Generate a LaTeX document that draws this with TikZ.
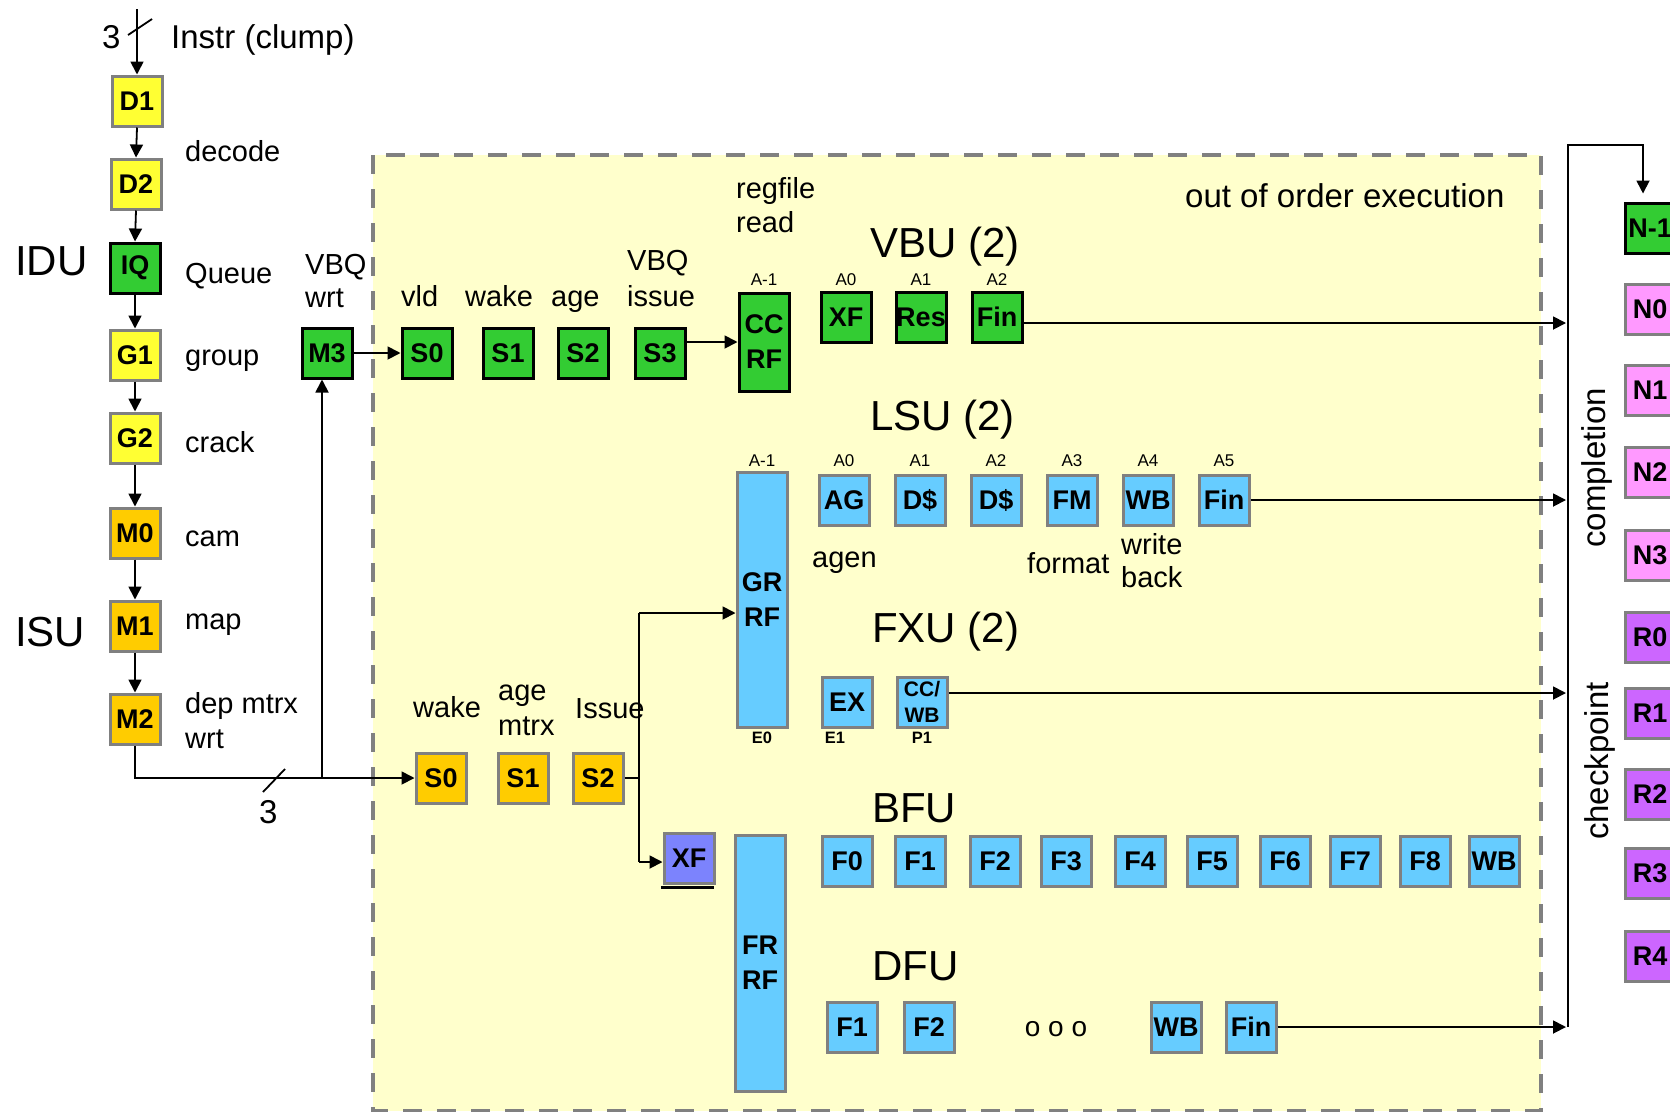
\documentclass[tikz,border=0pt]{standalone}
\usepackage{fontspec}
\setmainfont{Liberation Sans}
\usetikzlibrary{arrows.meta,calc}
\definecolor{yel}{HTML}{FFFF33}
\definecolor{grn}{HTML}{33CC33}
\definecolor{org}{HTML}{FFCC00}
\definecolor{blu}{HTML}{66CCFF}
\definecolor{pxf}{HTML}{7C83FD}
\definecolor{pnk}{HTML}{FF99FF}
\definecolor{vio}{HTML}{CC66FF}
\definecolor{bgy}{HTML}{FFFFCC}
\definecolor{bgray}{HTML}{808080}
\begin{document}
\begin{tikzpicture}[x=1pt,y=-1pt,
  stg/.style={draw=bgray, line width=3pt, minimum width=50pt, minimum height=50pt, inner sep=0pt, align=center,
     font=\bfseries\fontsize{27}{30}\selectfont},
  gstg/.style={stg, draw=black, fill=grn},
  ystg/.style={stg, fill=yel},
  ostg/.style={stg, fill=org},
  bstg/.style={stg, fill=blu},
  nstg/.style={stg, fill=pnk},
  rstg/.style={stg, fill=vio},
  lbl/.style={anchor=base west, inner sep=0pt, font=\fontsize{29}{34}\selectfont},
  blbl/.style={anchor=base west, inner sep=0pt, font=\fontsize{33}{38}\selectfont},
  big/.style={anchor=base west, inner sep=0pt, font=\fontsize{42}{48}\selectfont},
  tiny/.style={inner sep=0pt, font=\fontsize{17}{18}\selectfont},
  tinyb/.style={inner sep=0pt, font=\bfseries\fontsize{16.5}{18}\selectfont},
  ln/.style={line width=1.8pt},
  arr/.style={line width=1.8pt, -{Triangle[length=13pt,width=13pt]}}
]
\useasboundingbox (0,0) rectangle (1670,1111);
\clip (0,0) rectangle (1670,1111);

% out of order execution region
\draw[fill=bgy, draw=bgray, line width=4pt, dash pattern=on 19pt off 15pt] (373,155) rectangle (1541,1111);

% left column
\node[ystg] (D1) at (137,101) {D1};
\node[ystg] (D2) at (136,184) {D2};
\node[gstg] (IQ) at (135,268) {IQ};
\node[ystg] (G1) at (135,355) {G1};
\node[ystg] (G2) at (135,438) {G2};
\node[ostg] (M0) at (135,533) {M0};
\node[ostg] (M1) at (135,626) {M1};
\node[ostg] (M2) at (135,719) {M2};
\node[gstg] (M3) at (327,353) {M3};

% VBU
\node[gstg] (vS0) at (427,353) {S0};
\node[gstg] (vS1) at (508,353) {S1};
\node[gstg] (vS2) at (583,353) {S2};
\node[gstg] (vS3) at (660,353) {S3};
\node[gstg, minimum height=98pt] (CCRF) at (764,342) {CC\\[5pt]RF};
\node[gstg] (vXF) at (846,317) {XF};
\node[gstg] (vRes) at (921,317) {Res};
\node[gstg] (vFin) at (997,317) {Fin};

% LSU
\node[bstg, minimum height=255pt] (GRRF) at (762,600) {GR\\[5pt]RF};
\node[bstg] (lAG) at (844,500) {AG};
\node[bstg] (lD1) at (920,500) {D\$};
\node[bstg] (lD2) at (996,500) {D\$};
\node[bstg] (lFM) at (1072,500) {FM};
\node[bstg] (lWB) at (1148,500) {WB};
\node[bstg] (lFin) at (1224,500) {Fin};

% FXU
\node[bstg, font=\bfseries\fontsize{21}{22}\selectfont] (fEX) at (847,702) {\fontsize{27}{30}\selectfont EX};
\node[bstg, font=\bfseries\fontsize{21}{22}\selectfont] (fCC) at (922,702) {CC/\\[4pt]WB};

% ISU issue
\node[ostg] (iS0) at (441,778) {S0};
\node[ostg] (iS1) at (523,778) {S1};
\node[ostg] (iS2) at (598,778) {S2};

% XF and FR RF
\node[stg, fill=pxf] (XF) at (689,858) {XF};
\draw[line width=3pt] (XF.south west) ++(-1.5,3) -- ++(53,0);
\node[bstg, minimum height=256pt] (FRRF) at (760,963) {FR\\[5pt]RF};

% BFU
\node[bstg] (bF0) at (847,861) {F0};
\node[bstg] (bF1) at (920,861) {F1};
\node[bstg] (bF2) at (995,861) {F2};
\node[bstg] (bF3) at (1066,861) {F3};
\node[bstg] (bF4) at (1140,861) {F4};
\node[bstg] (bF5) at (1212,861) {F5};
\node[bstg] (bF6) at (1285,861) {F6};
\node[bstg] (bF7) at (1355,861) {F7};
\node[bstg] (bF8) at (1425,861) {F8};
\node[bstg] (bWB) at (1494,861) {WB};

% DFU
\node[bstg] (dF1) at (852,1027) {F1};
\node[bstg] (dF2) at (929,1027) {F2};
\node[inner sep=0pt, font=\fontsize{28}{30}\selectfont] (dots) at (1056,1029) {o o o};
\node[bstg] (dWB) at (1176,1027) {WB};
\node[bstg] (dFin) at (1251,1027) {Fin};

% completion / checkpoint
\node[gstg] (Nm1) at (1650,228) {N-1};
\node[nstg] (N0) at (1650,309) {N0};
\node[nstg] (N1) at (1650,390) {N1};
\node[nstg] (N2) at (1650,472) {N2};
\node[nstg] (N3) at (1650,555) {N3};
\node[rstg] (R0) at (1650,637) {R0};
\node[rstg] (R1) at (1650,713) {R1};
\node[rstg] (R2) at (1650,794) {R2};
\node[rstg] (R3) at (1650,873) {R3};
\node[rstg] (R4) at (1650,956) {R4};
\node[rotate=90, inner sep=0pt, font=\fontsize{33}{38}\selectfont] (tcomp) at (1597,468) {completion};
\node[rotate=90, inner sep=0pt, font=\fontsize{33}{38}\selectfont] (tchk) at (1600,761) {checkpoint};

% text labels
\node[blbl] (t3a) at (102,48) {3};
\node[blbl] (tinstr) at (171,48) {Instr (clump)};
\node[lbl] (tdec) at (185,161) {decode};
\node[big] (tidu) at (15,275) {IDU};
\node[lbl] (tq) at (185,283) {Queue};
\node[lbl] (tgrp) at (185,365) {group};
\node[lbl] (tcrk) at (185,452) {crack};
\node[lbl] (tcam) at (185,546) {cam};
\node[lbl] (tmap) at (185,629) {map};
\node[lbl] (tdep) at (185,713) {dep mtrx};
\node[lbl] (tdepw) at (185,748) {wrt};
\node[big] (tisu) at (15,646) {ISU};
\node[lbl] (tvbq) at (305,274) {VBQ};
\node[lbl] (tvbqw) at (305,307) {wrt};
\node[blbl] (t3b) at (259,823) {3};

\node[lbl] (tvld) at (401,306) {vld};
\node[lbl] (twk) at (465,306) {wake};
\node[lbl] (tage) at (551,306) {age};
\node[lbl] (tvbqi) at (627,270) {VBQ};
\node[lbl] (tiss) at (627,306) {issue};
\node[lbl] (treg) at (736,198) {regfile};
\node[lbl] (tread) at (736,232) {read};
\node[big] (tvbu) at (870,257) {VBU (2)};
\node[big] (tlsu) at (870,430) {LSU (2)};
\node[blbl] (tooo) at (1185,207) {out of order execution};
\node[big] (tfxu) at (872,642) {FXU (2)};
\node[big] (tbfu) at (872,822) {BFU};
\node[big] (tdfu) at (872,980) {DFU};
\node[lbl] (tagen) at (812,567) {agen};
\node[lbl] (tfmt) at (1027,573) {format};
\node[lbl] (twr) at (1121,554) {write};
\node[lbl] (tbk) at (1121,587) {back};
\node[lbl] (tiwk) at (413,717) {wake};
\node[lbl] (tiage) at (498,700) {age};
\node[lbl] (timt) at (498,735) {mtrx};
\node[lbl] (tiiss) at (575,718) {Issue};

% small stage labels
\node[tiny] (a1) at (764,280) {A-1};
\node[tiny] (a2) at (846,280) {A0};
\node[tiny] (a3) at (921,280) {A1};
\node[tiny] (a4) at (997,280) {A2};
\node[tiny] (b1) at (762,461) {A-1};
\node[tiny] (b2) at (844,461) {A0};
\node[tiny] (b3) at (920,461) {A1};
\node[tiny] (b4) at (996,461) {A2};
\node[tiny] (b5) at (1072,461) {A3};
\node[tiny] (b6) at (1148,461) {A4};
\node[tiny] (b7) at (1224,461) {A5};
\node[tinyb] (e0) at (762,738) {E0};
\node[tinyb] (e1) at (835,738) {E1};
\node[tinyb] (p1) at (922,738) {P1};

% connectors: left column
\coordinate (top) at (137,9);
\draw[arr] (top) -- (D1.north);
\draw[ln] (128,35) -- (152,19);
\draw[arr] (D1.south) -- (D2.north);
\draw[arr] (D2.south) -- (IQ.north);
\draw[arr] (IQ.south) -- (G1.north);
\draw[arr] (G1.south) -- (G2.north);
\draw[arr] (G2.south) -- (M0.north);
\draw[arr] (M0.south) -- (M1.north);
\draw[arr] (M1.south) -- (M2.north);
\draw[arr] (M2.south) |- (iS0.west);
\coordinate (j1) at (322,778);
\draw[arr] (j1) -- (j1 |- M3.south);
\draw[ln] (263,792) -- (285,769);
\draw[arr] (M3.east) -- (vS0.west);
\draw[arr] (vS3.east |- CCRF) -- (CCRF.west);

% connectors to completion
\coordinate (c1) at (1566,323);
\coordinate (c3) at (1566,693);
\coordinate (vl) at (1566,0);
\draw[arr] (vFin.east |- c1) -- (c1);
\draw[arr] (lFin.east) -- (lFin.east -| vl);
\draw[arr] (fCC.east |- c3) -- (c3);
\draw[arr] (dFin.east) -- (dFin.east -| vl);
\coordinate (vbot) at (1568,1027);
\coordinate (vtop) at (1568,145);
\coordinate (ntop) at (1643,145);
\draw[arr, shorten >=8pt] (vbot) -- (vtop) -- (ntop) -- (ntop |- Nm1.north);

% issue to GR RF and XF
\coordinate (j2) at (639,778);
\coordinate (j3) at (639,613);
\coordinate (j4) at (639,862);
\draw[ln] (iS2.east) -- (j2);
\draw[ln] (j3) -- (j4);
\draw[arr] (j3) -- (j3 -| GRRF.west);
\draw[arr] (j4) -- (j4 -| XF.west);
\end{tikzpicture}
\end{document}
